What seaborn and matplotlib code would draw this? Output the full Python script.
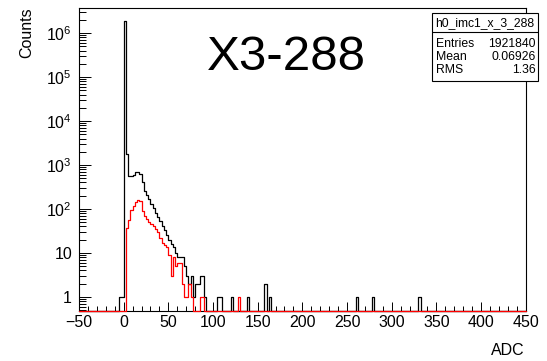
import numpy as np
import pandas as pd
import matplotlib
matplotlib.use("Agg")
import matplotlib.pyplot as plt
from matplotlib.patches import Rectangle
from matplotlib.ticker import FixedLocator, FixedFormatter, LogLocator, NullFormatter, MultipleLocator
import seaborn as sns

# ---------------- data ----------------
x_min, x_max, bin_width = -50.0, 450.0, 2.5

# black histogram (all hits): lower bin edge -> counts
black_lo = [-5, -2.5, 0, 2.5, 5, 7.5, 10, 12.5, 15, 17.5, 20, 22.5, 25, 27.5, 30, 32.5,
            35, 37.5, 40, 42.5, 45, 47.5, 50, 52.5, 55, 57.5, 60, 62.5, 65, 67.5, 70,
            72.5, 75, 77.5, 80, 82.5, 85, 87.5, 90, 105, 107.5, 120, 137.5, 157.5,
            162.5, 260, 277.5, 330]
black_counts = [1, 1, 1.92e6, 1800, 560, 560, 600, 700, 690, 620, 400, 260, 210, 165, 130,
                105, 82, 65, 52, 41, 33, 26, 20, 16, 14, 10, 8, 8, 8, 5, 3,
                2, 3, 1, 2, 2, 3, 3, 1, 1, 1, 1, 1, 2,
                1, 1, 1, 1]

# red histogram (selected hits)
red_lo = [2.5, 5, 7.5, 10, 12.5, 15, 17.5, 20, 22.5, 25, 27.5, 30, 32.5, 35, 37.5, 40,
          42.5, 45, 47.5, 50, 52.5, 55, 57.5, 60, 62.5, 65, 67.5, 70, 72.5, 75, 85, 87.5,
          127.5]
red_counts = [37, 56, 95, 115, 147, 160, 150, 90, 70, 58, 50, 45, 40, 36, 30, 22,
              17, 15, 14, 9, 3, 8, 5, 6, 6, 2, 1, 1, 2, 1, 1, 1,
              1]

x_ticks = [-50, 0, 50, 100, 150, 200, 250, 300, 350, 400, 450]
y_ticks = [1, 10, 1e2, 1e3, 1e4, 1e5, 1e6]
y_tick_labels = ["1", "10", "$10^{2}$", "$10^{3}$", "$10^{4}$", "$10^{5}$", "$10^{6}$"]

title_text = "X3-288"
stats_name = "h0_imc1_x_3_288"
stats_rows = [("Entries", "1921840"), ("Mean", "0.06926"), ("RMS", "1.36")]
x_label = "ADC"
y_label = "Counts"

# ---------------- style ----------------
sns.set_style("white")
plt.rcParams["font.family"] = ["Liberation Sans", "DejaVu Sans"]
plt.rcParams["mathtext.fontset"] = "custom"
plt.rcParams["mathtext.rm"] = "Liberation Sans"
plt.rcParams["mathtext.it"] = "Liberation Sans:italic"
plt.rcParams["mathtext.bf"] = "Liberation Sans:bold"
plt.rcParams["axes.unicode_minus"] = True
plt.rcParams["text.color"] = "black"
plt.rcParams["axes.labelcolor"] = "black"
plt.rcParams["xtick.color"] = "black"
plt.rcParams["ytick.color"] = "black"

W, H = 547, 361
fig = plt.figure(figsize=(W / 100, H / 100), dpi=100)
ax_l, ax_r, ax_t, ax_b = 79, 525.7, 7.5, 311
ax = fig.add_axes([ax_l / W, 1 - ax_b / H, (ax_r - ax_l) / W, (ax_b - ax_t) / H])

y_bottom, y_top = 0.48, 3.8e6

edges = np.arange(x_min, x_max + bin_width / 2, bin_width)
nb = len(edges) - 1


def full_hist(lo, counts):
    h = np.zeros(nb)
    for l, c in zip(lo, counts):
        i = int(round((l - x_min) / bin_width))
        h[i] = c
    h = np.where(h > 0, h, y_bottom)
    return np.append(h, h[-1])


df_black = pd.DataFrame({"x": edges, "y": full_hist(black_lo, black_counts)})
df_red = pd.DataFrame({"x": edges, "y": full_hist(red_lo, red_counts)})

sns.lineplot(data=df_black, x="x", y="y", ax=ax, color="black", lw=0.9,
             drawstyle="steps-post", errorbar=None, clip_on=False, zorder=3)
sns.lineplot(data=df_red, x="x", y="y", ax=ax, color="#ff0000", lw=0.9,
             drawstyle="steps-post", errorbar=None, clip_on=False, zorder=4)

ax.set_yscale("log")
ax.set_xlim(x_min, x_max)
ax.set_ylim(y_bottom, y_top)

ax.xaxis.set_major_locator(FixedLocator(x_ticks))
ax.xaxis.set_minor_locator(MultipleLocator(10))
ax.yaxis.set_major_locator(FixedLocator(y_ticks))
ax.yaxis.set_major_formatter(FixedFormatter(y_tick_labels))
ax.yaxis.set_minor_locator(LogLocator(base=10, subs=np.arange(2, 10), numticks=20))
ax.yaxis.set_minor_formatter(NullFormatter())

ax.tick_params(axis="x", which="major", direction="in", length=6.5, width=0.7,
               labelsize=11.5, pad=3, top=False, bottom=True, colors="black")
ax.tick_params(axis="x", which="minor", direction="in", length=3.6, width=0.7,
               top=False, bottom=True)
ax.tick_params(axis="y", which="major", direction="in", length=8.6, width=0.7,
               labelsize=11.5, pad=5, left=True, right=False, colors="black")
ax.tick_params(axis="y", which="minor", direction="in", length=4.8, width=0.7,
               left=True, right=False)
for s in ax.spines.values():
    s.set_color("black")
    s.set_linewidth(0.8)
ax.set_xlabel("")
ax.set_ylabel("")
ax.grid(False)

# axis titles
fig.text(27 / W, 1 - 7 / H, y_label, rotation=90, ha="center", va="top", fontsize=11.5,
         color="black")
fig.text(525 / W, 1 - 355 / H, x_label, ha="right", va="baseline", fontsize=11.5,
         color="black")

# big title
fig.text(286 / W, 1 - 70 / H, title_text, ha="center", va="baseline", fontsize=35.5,
         color="black")

# stats box
bx0, bx1, by0, by1, bsep = 431.7, 538.3, 13.3, 81, 31.7
fig.patches.append(Rectangle((bx0 / W, 1 - by1 / H), (bx1 - bx0) / W, (by1 - by0) / H,
                             transform=fig.transFigure, facecolor="white",
                             edgecolor="black", lw=0.8, zorder=10))
fig.lines.append(plt.Line2D([bx0 / W, bx1 / W], [1 - bsep / H, 1 - bsep / H],
                            transform=fig.transFigure, color="black", lw=0.8, zorder=11))
fig.text((bx0 + bx1) / 2 / W, 1 - 26.5 / H, stats_name, ha="center", va="baseline",
         fontsize=8.7, zorder=12, color="black")
for k, (lab, val) in enumerate(stats_rows):
    yb = 46.7 + 13.3 * k
    fig.text(436 / W, 1 - yb / H, lab, ha="left", va="baseline", fontsize=8.8, zorder=12,
             color="black")
    fig.text(536 / W, 1 - yb / H, val, ha="right", va="baseline", fontsize=8.8, zorder=12,
             color="black")

fig.savefig("out.png", dpi=100)
